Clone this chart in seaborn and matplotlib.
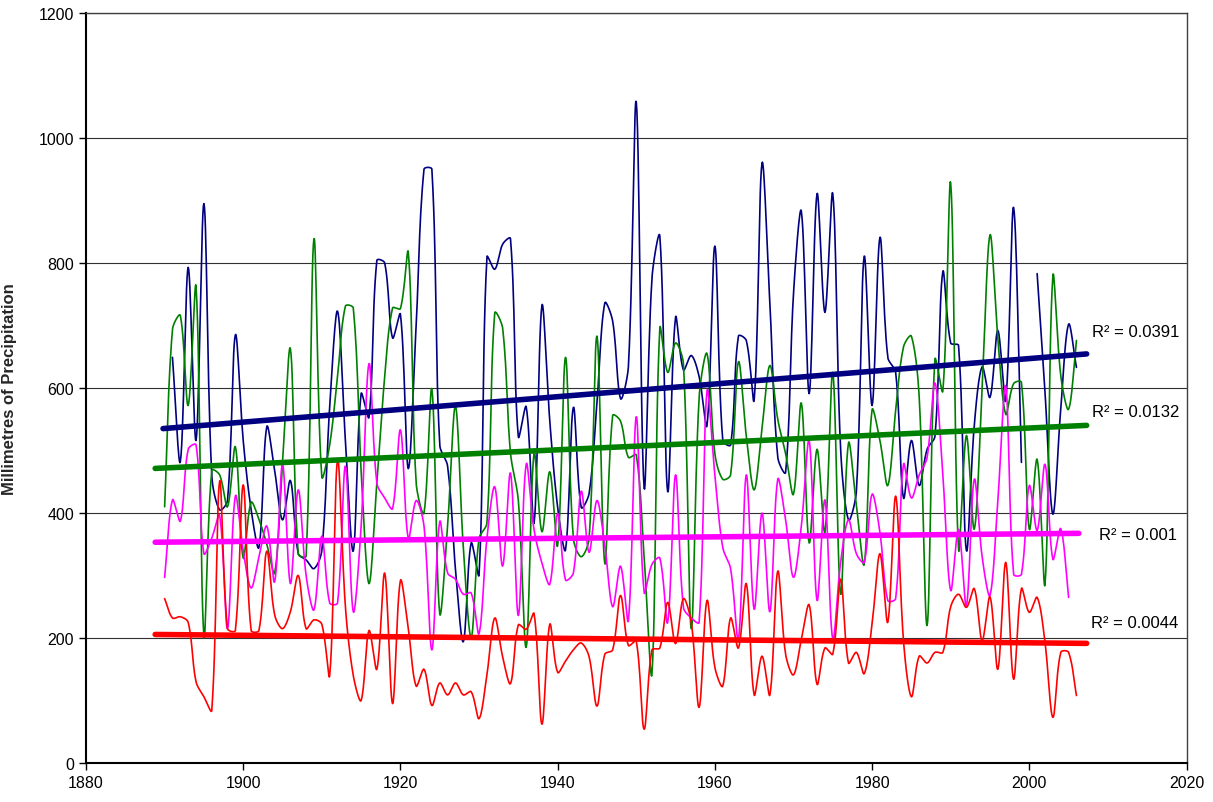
import numpy as np
import pandas as pd
import seaborn as sns
import matplotlib
matplotlib.use('Agg')
from matplotlib import pyplot as plt

# annual precipitation (mm), 1890-2006
years = list(range(1890, 2007))

blue = [np.nan, 649, 482, 793, 516, 895, 460, 405, 420, 685,
        516, 406, 345, 538, 468, 389, 452, 335, 325, 311,
        340, 570, 723, 516, 339, 591, 553, 804, 800, 680,
        718, 471, 700, 950, 950, 509, 475, 310, 194, 352,
        301, 810, 790, 830, 839, 522, 570, 384, 732, 547,
        409, 341, 569, 409, 431, 576, 736, 707, 583, 634,
        1058, 441, 776, 843, 434, 713, 629, 652, 618, 540,
        827, 516, 509, 683, 676, 581, 960, 735, 489, 465,
        750, 883, 591, 911, 721, 911, 502, 389, 434, 811,
        572, 841, 649, 625, 424, 516, 444, 502, 523, 786,
        672, 668, 340, 540, 634, 585, 692, 580, 889, 481,
        np.nan, 783, 593, 398, 566, 702, 633]

green = [410, 694, 716, 572, 762, 203, 468, 461, 410, 506,
         328, 417, 390, 350, 304, 482, 663, 335, 331, 839,
         458, 509, 618, 731, 728, 467, 287, 448, 618, 728,
         727, 817, 448, 400, 598, 239, 379, 571, 345, 201,
         359, 384, 720, 696, 496, 420, 185, 496, 370, 466,
         348, 649, 359, 330, 359, 683, 319, 556, 547, 489,
         493, 330, 143, 696, 625, 672, 639, 215, 585, 655,
         495, 454, 461, 642, 523, 437, 536, 636, 550, 495,
         430, 576, 352, 502, 369, 625, 270, 512, 413, 318,
         565, 516, 444, 564, 666, 683, 584, 220, 646, 595,
         928, 342, 524, 374, 598, 845, 680, 558, 607, 609,
         374, 486, 286, 779, 620, 566, 676]

magenta = [297, 421, 387, 502, 509, 335, 360, 396, 215, 427,
           340, 280, 330, 379, 290, 478, 287, 437, 300, 245,
           363, 256, 256, 475, 242, 379, 639, 448, 424, 407,
           533, 359, 420, 379, 181, 386, 304, 294, 270, 272,
           207, 359, 442, 315, 464, 236, 478, 373, 320, 286,
           399, 293, 304, 435, 337, 420, 348, 250, 315, 228,
           554, 273, 318, 328, 225, 461, 249, 232, 225, 595,
           461, 345, 311, 198, 461, 246, 400, 242, 454, 389,
           297, 379, 516, 260, 421, 198, 321, 389, 335, 321,
           430, 369, 260, 263, 478, 424, 461, 489, 608, 461,
           276, 374, 252, 454, 330, 268, 420, 603, 302, 302,
           444, 372, 478, 326, 375, 265, np.nan]

red = [263, 232, 234, 225, 130, 106, 84, 451, 215, 212,
       445, 212, 212, 339, 237, 215, 242, 300, 215, 229,
       222, 140, 485, 250, 140, 100, 212, 150, 304, 95,
       292, 215, 123, 150, 92, 128, 109, 128, 109, 114,
       71, 141, 232, 170, 127, 221, 214, 239, 62, 222,
       145, 163, 181, 192, 170, 91, 174, 181, 268, 188,
       195, 54, 181, 184, 257, 191, 263, 225, 89, 260,
       153, 123, 232, 184, 287, 109, 171, 109, 307, 174,
       141, 198, 253, 126, 184, 174, 294, 160, 177, 143,
       222, 335, 225, 427, 195, 106, 171, 160, 177, 177,
       250, 270, 249, 279, 196, 266, 150, 321, 134, 279,
       241, 265, 193, 73, 177, 177, 108]

r2_labels = ['0.0391', '0.0132', '0.001', '0.0044']

# pixels per year / per mm on the target chart, used to weight the smoothing
PX_X, PX_Y = 7.86, 0.625


def smooth(xs, ys, n=14):
    # Excel style smoothed line: bezier through every point, tangents
    # weighted by the on-screen length of the neighbouring segments
    xs = np.asarray(xs, float)
    ys = np.asarray(ys, float)
    if len(xs) < 3:
        return xs, ys
    px = np.concatenate([[xs[0]], xs, [xs[-1]]])
    py = np.concatenate([[ys[0]], ys, [ys[-1]]])
    P = np.column_stack([px, py])
    S = np.array([PX_X, PX_Y])
    t = np.linspace(0, 1, n, endpoint=False)[:, None]
    ox, oy = [], []
    for i in range(1, len(P) - 2):
        p0, p1, p2, p3 = P[i - 1], P[i], P[i + 1], P[i + 2]
        d01 = np.hypot(*((p1 - p0) * S))
        d12 = np.hypot(*((p2 - p1) * S))
        d23 = np.hypot(*((p3 - p2) * S))
        b1 = p1 + (p2 - p0) / 3 * (d12 / (d01 + d12))
        b2 = p2 - (p3 - p1) / 3 * (d12 / (d12 + d23))
        pts = ((1 - t) ** 3) * p1 + 3 * ((1 - t) ** 2) * t * b1 + 3 * (1 - t) * t ** 2 * b2 + t ** 3 * p2
        ox.append(pts[:, 0])
        oy.append(pts[:, 1])
    ox.append([xs[-1]])
    oy.append([ys[-1]])
    return np.concatenate(ox), np.concatenate(oy)


df = pd.DataFrame({'Year': years, 'blue': blue, 'green': green, 'magenta': magenta, 'red': red})
colors = {'blue': '#000080', 'green': '#008000', 'magenta': '#FF00FF', 'red': '#FF0000'}

sns.set_style('white')
plt.rcParams['font.family'] = ['Liberation Sans', 'DejaVu Sans']

fig, ax = plt.subplots(figsize=(12.13, 8.03), dpi=100)
fig.subplots_adjust(left=86 / 1213, right=1186.5 / 1213, bottom=39 / 803, top=1 - 14 / 803)

ax.set_xlim(1880, 2020)
ax.set_ylim(0, 1200)
ax.set_xticks(range(1880, 2021, 20))
ax.set_yticks(range(0, 1201, 200))
for yv in range(200, 1201, 200):
    ax.axhline(yv, color='#303030', lw=0.8, zorder=1)

# the data series, split where a year is missing
for name in ['blue', 'green', 'magenta', 'red']:
    s = df[['Year', name]]
    ok = s[name].notna()
    grp = s[name].isna().cumsum()
    for _, seg in s[ok].groupby(grp[ok]):
        sx, sy = smooth(seg['Year'].values, seg[name].values)
        sns.lineplot(x=sx, y=sy, ax=ax, color=colors[name], lw=1.2, sort=False,
                     estimator=None, zorder=3)

# linear trendlines
label_pos = {'blue': (2008.0, 691), 'green': (2008.0, 562), 'magenta': (2008.9, 365), 'red': (2007.9, 224)}
for name, r2 in zip(['blue', 'green', 'magenta', 'red'], r2_labels):
    s = df[df[name].notna()]
    k, b = np.polyfit(s['Year'], s[name], 1)
    tx = np.array([s['Year'].min() - 1.2, s['Year'].max() + 1.3])
    sns.lineplot(x=tx, y=k * tx + b, ax=ax, color=colors[name], lw=4.0, zorder=4,
                 estimator=None, sort=False)
    lx, ly = label_pos[name]
    ax.text(lx, ly, 'R\u00b2 = ' + r2, fontsize=12, va='center', ha='left', color='black')

ax.set_xlabel('')
ax.set_ylabel('Millimetres of Precipitation', fontsize=12, fontweight='bold')
ax.yaxis.set_label_coords(-0.0627, 0.5)
ax.tick_params(axis='both', which='major', direction='out', length=5, width=1,
               labelsize=11.5, colors='black', left=True, bottom=True)
for sp in ['left', 'bottom']:
    ax.spines[sp].set_color('black')
    ax.spines[sp].set_linewidth(1.5)
for sp in ['top', 'right']:
    ax.spines[sp].set_color('#404040')
    ax.spines[sp].set_linewidth(1.0)

fig.savefig('out.png', dpi=100)
